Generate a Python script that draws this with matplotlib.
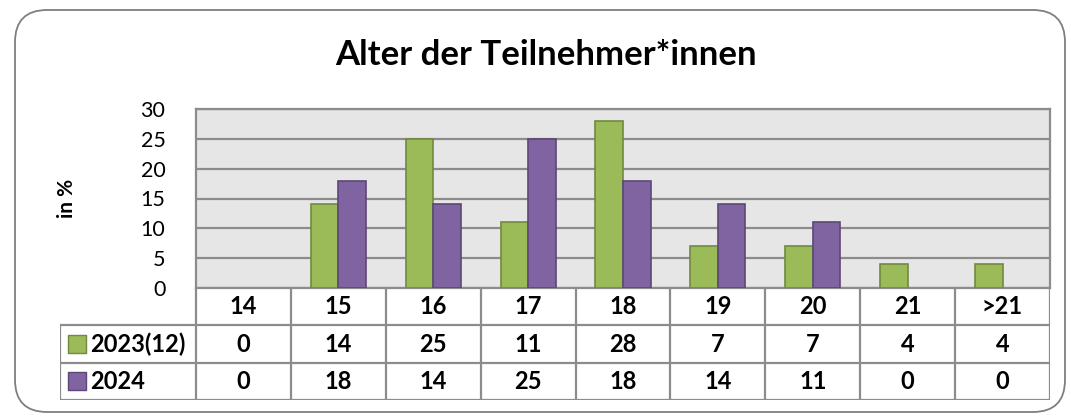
import matplotlib.pyplot as plt
from matplotlib.patches import FancyBboxPatch
import numpy as np

plt.rcParams['font.family'] = ['Lato', 'DejaVu Sans']

ages = ['14', '15', '16', '17', '18', '19', '20', '21', '>21']
series_names = ['2023(12)', '2024']
vals_2023 = [0, 14, 25, 11, 28, 7, 7, 4, 4]
vals_2024 = [0, 18, 14, 25, 18, 14, 11, 0, 0]
colors = ['#9BBB59', '#8064A2']
edges = ['#71893F', '#5C4776']
grid_col = '#8C8C8C'

W, H = 1071, 417
fig = plt.figure(figsize=(W / 100, H / 100), dpi=100)

# rounded outer frame
frame = FancyBboxPatch((15 / W, 5 / H), 1050 / W, 402 / H,
                       boxstyle='round,pad=0,rounding_size=0.03',
                       transform=fig.transFigure, facecolor='white',
                       edgecolor='#7F7F7F', linewidth=1.3, mutation_aspect=W / H,
                       zorder=-10)
fig.patches.append(frame)

fig.text(546 / W, 1 - 55 / H, 'Alter der Teilnehmer*innen', ha='center', va='center',
         fontsize=25, fontweight='bold')

# plot area
x0, x1, ytop, ybot = 196, 1050, 109, 288
ax = fig.add_axes([x0 / W, 1 - ybot / H, (x1 - x0) / W, (ybot - ytop) / H])
ax.set_facecolor('#E6E6E6')
x = np.arange(len(ages))
bw = 0.29
for off, vals, c, e in [(-bw / 2, vals_2023, colors[0], edges[0]),
                        (bw / 2, vals_2024, colors[1], edges[1])]:
    ax.bar(x + off, vals, bw, color=c, edgecolor=e,
           linewidth=[1.2 if v else 0 for v in vals], zorder=3)
ax.set_xlim(-0.5, len(ages) - 0.5)
ax.set_ylim(0, 30)
ax.set_yticks(range(0, 31, 5))
ax.set_xticks([])
ax.tick_params(axis='y', length=0, pad=22, labelsize=15.5)
ax.grid(axis='y', color=grid_col, linewidth=1.6, zorder=1)
for s in ax.spines.values():
    s.set_color(grid_col)
    s.set_linewidth(1.6)
ax.set_ylabel('in %', fontsize=15, fontweight='bold', labelpad=46)

# data table below
tl, tb = 60, 400
unit = (x1 - x0) / len(ages)
xl = -0.5 - (x0 - tl) / unit
tax = fig.add_axes([tl / W, 1 - tb / H, (x1 - tl) / W, (tb - ybot) / H])
tax.set_xlim(xl, len(ages) - 0.5)
tax.set_ylim(0, 3)
tax.axis('off')
lk = dict(color=grid_col, linewidth=1.6, solid_capstyle='projecting')
for k in range(len(ages) + 1):
    tax.plot([k - 0.5, k - 0.5], [0, 3], **lk)
tax.plot([xl, xl], [0, 2], **lk)
for yy in (0, 1, 2):
    tax.plot([xl, len(ages) - 0.5], [yy, yy], **lk)

for i, a in enumerate(ages):
    tax.text(i, 2.5, a, ha='center', va='center', fontsize=17, fontweight='bold')
rows = [vals_2023, vals_2024]
for r, (name, vals) in enumerate(zip(series_names, rows)):
    yc = 1.5 - r
    for i, v in enumerate(vals):
        tax.text(i, yc, str(v), ha='center', va='center', fontsize=17, fontweight='bold')
    tax.scatter([xl + 17 / unit], [yc], marker='s', s=150, color=colors[r],
                edgecolor=edges[r], linewidth=1.0, clip_on=False)
    tax.text(xl + 30 / unit, yc, name, ha='left', va='center', fontsize=17, fontweight='bold')

fig.savefig('out.png', dpi=100)
